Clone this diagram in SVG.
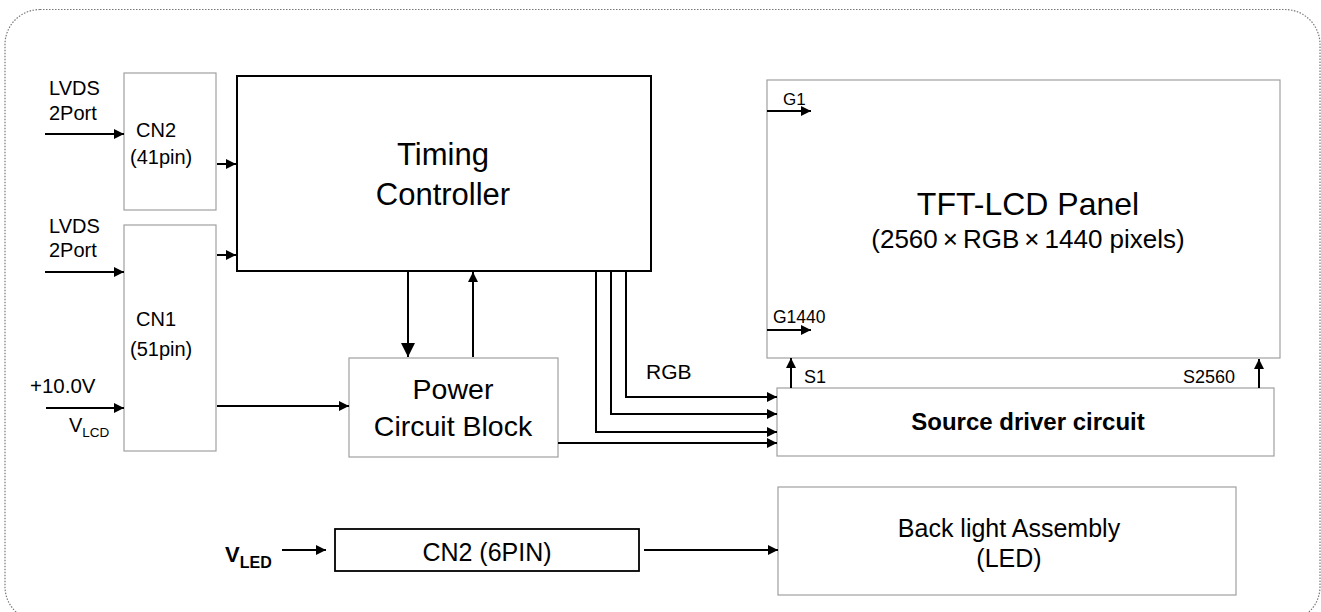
<svg xmlns="http://www.w3.org/2000/svg" width="1321" height="612" viewBox="0 0 1321 612">
<style>
text{font-family:"Liberation Sans",Arial,sans-serif;fill:#000}
.gb{fill:#fff;stroke:#a0a0a0;stroke-width:1.2}
.bb{fill:#fff;stroke:#000;stroke-width:2}
.ln{fill:none;stroke:#000;stroke-width:2}
.ar{fill:none;stroke:#000;stroke-width:2;marker-end:url(#ah)}
</style>
<defs>
<marker id="ah" viewBox="0 0 10 10" refX="10" refY="5" markerWidth="5" markerHeight="5" orient="auto" markerUnits="strokeWidth">
<path d="M0,0 L10,5 L0,10 z" fill="#000"/>
</marker>
<marker id="ahb" viewBox="0 0 10 10" refX="10" refY="5" markerWidth="7" markerHeight="7" orient="auto" markerUnits="strokeWidth">
<path d="M0,0 L10,5 L0,10 z" fill="#000"/>
</marker>
</defs>
<rect x="5" y="9.5" width="1315" height="612" rx="35" fill="none" stroke="#777" stroke-width="1.2" stroke-dasharray="1.5,1.5"/>

<g id="cn2">
<rect class="gb" x="124" y="73" width="92" height="137"/>
<text x="136" y="137" font-size="20">CN2</text>
<text x="130" y="164" font-size="20">(41pin)</text>
</g>
<g id="cn1">
<rect class="gb" x="124" y="225" width="92" height="226"/>
<text x="136" y="326" font-size="20">CN1</text>
<text x="130" y="356" font-size="20">(51pin)</text>
</g>
<g id="timing">
<rect class="bb" x="237" y="76" width="414" height="195"/>
<text x="443" y="165" font-size="31" text-anchor="middle">Timing</text>
<text x="443" y="205" font-size="31" text-anchor="middle">Controller</text>
</g>
<g id="power">
<rect class="gb" x="349" y="358" width="209" height="99"/>
<text x="453" y="399" font-size="28.5" text-anchor="middle">Power</text>
<text x="453" y="436" font-size="28.5" text-anchor="middle">Circuit Block</text>
</g>
<g id="panel">
<rect class="gb" x="767" y="80" width="513" height="278"/>
<text x="1028" y="215" font-size="32" text-anchor="middle">TFT-LCD Panel</text>
<text x="1028" y="248" font-size="26" text-anchor="middle">(2560<tspan dx="5">×</tspan><tspan dx="5">RGB</tspan><tspan dx="5">×</tspan><tspan dx="5">1440 pixels)</tspan></text>
<text x="783" y="105" font-size="17">G1</text>
<text x="773" y="323" font-size="17.5">G1440</text>
</g>
<g id="source">
<rect class="gb" x="777" y="388" width="497" height="68"/>
<text x="1028" y="430" font-size="24" font-weight="bold" text-anchor="middle">Source driver circuit</text>
<text x="804" y="383" font-size="18">S1</text>
<text x="1183" y="383" font-size="18">S2560</text>
</g>
<g id="cn2-6pin">
<rect x="335" y="529" width="304" height="42" fill="#fff" stroke="#000" stroke-width="1.8"/>
<text x="487" y="561" font-size="25" text-anchor="middle">CN2 (6PIN)</text>
</g>
<g id="backlight">
<rect class="gb" x="778" y="487" width="458" height="108"/>
<text x="1009" y="537" font-size="25" text-anchor="middle">Back light Assembly</text>
<text x="1009" y="567" font-size="25" text-anchor="middle">(LED)</text>
</g>
<g id="labels">
<text x="49" y="95" font-size="20">LVDS</text>
<text x="49" y="120" font-size="20">2Port</text>
<text x="49" y="233" font-size="20">LVDS</text>
<text x="49" y="257" font-size="20">2Port</text>
<text x="30" y="393" font-size="20.5">+10.0V</text>
<text x="69" y="432" font-size="20">V<tspan font-size="13.5" dy="5">LCD</tspan></text>
<text x="225" y="562" font-size="22" font-weight="bold">V<tspan font-size="16" dy="6">LED</tspan></text>
<text x="646" y="379" font-size="21">RGB</text>
</g>
<g id="connectors">
<line class="ar" x1="45" y1="134" x2="124" y2="134"/>
<line class="ar" x1="217" y1="164" x2="236" y2="164"/>
<line class="ar" x1="45" y1="272" x2="124" y2="272"/>
<line class="ar" x1="217" y1="255" x2="236" y2="255"/>
<line class="ar" x1="46" y1="408" x2="124" y2="408"/>
<line class="ar" x1="217" y1="406" x2="349" y2="406" stroke-width="1.6"/>
<line class="ln" x1="408" y1="272" x2="408" y2="357" marker-end="url(#ahb)"/>
<line class="ar" x1="473" y1="357" x2="473" y2="272"/>
<polyline class="ar" points="626,270 626,397 777,397" stroke-width="2.5"/>
<polyline class="ar" points="611,270 611,414 777,414"/>
<polyline class="ar" points="596,270 596,432 777,432"/>
<line class="ar" x1="558" y1="443" x2="777" y2="443"/>
<line class="ar" x1="767" y1="111" x2="811" y2="111"/>
<line class="ar" x1="767" y1="330" x2="811" y2="330"/>
<line class="ar" x1="791" y1="388" x2="791" y2="358"/>
<line class="ar" x1="1259" y1="388" x2="1259" y2="359"/>
<line class="ar" x1="282" y1="550" x2="326" y2="550"/>
<line class="ar" x1="644" y1="550" x2="778" y2="550" stroke-width="1.8"/>
</g>
</svg>
